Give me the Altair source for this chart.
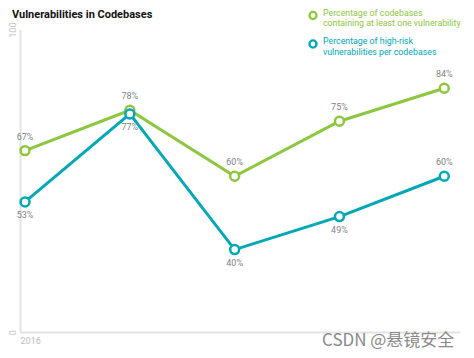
import altair as alt
import pandas as pd

years = [2016, 2017, 2018, 2019, 2020]
any_vuln = [67, 78, 60, 75, 84]
high_risk = [53, 77, 40, 49, 60]
series_names = ["Percentage of codebases containing at least one vulnerability",
                "Percentage of high-risk vulnerabilities per codebases"]
colors = ["#8dc63f", "#00a7b5"]

rows = []
for s, vals in zip(series_names, [any_vuln, high_risk]):
    for y, v in zip(years, vals):
        rows.append({"year": y, "value": v, "series": s, "label": f"{v}%"})
df = pd.DataFrame(rows)

FONT = "Roboto"
W, H = 440, 302.5

x = alt.X("year:Q",
          scale=alt.Scale(domain=[2015.952, 2020.15], nice=False, zero=False),
          axis=alt.Axis(values=[2016], format="d", title=None, ticks=False, grid=False,
                        domainColor="#e3e3e3", domainWidth=2, labelColor="#bdbdbd",
                        labelFontSize=9, labelFont=FONT, labelAlign="left", labelOffset=-5,
                        labelPadding=4, labelFlush=False))
y = alt.Y("value:Q",
          scale=alt.Scale(domain=[17.5, 100], nice=False, zero=False),
          axis=alt.Axis(values=[17.5, 100], labelExpr="datum.value >= 100 ? '100' : '0'",
                        title=None, ticks=False, grid=False, domainColor="#e3e3e3",
                        domainWidth=2, labelColor="#c4c4c4", labelFontSize=9,
                        labelFont=FONT, labelAngle=270, labelAlign="center",
                        labelBaseline="bottom", labelPadding=3, labelFlush=False))
color = alt.Color("series:N", scale=alt.Scale(domain=series_names, range=colors), legend=None)
stroke = alt.Stroke("series:N", scale=alt.Scale(domain=series_names, range=colors), legend=None)

base = alt.Chart(df)
lines = base.mark_line(strokeWidth=3).encode(x=x, y=y, color=color)
points = base.mark_point(shape="circle", filled=True, fill="white", size=80,
                         strokeWidth=2.5, opacity=1).encode(x=x, y=y, stroke=stroke)

lab_style = dict(fontSize=9, font=FONT, color="#7d818b")
lab_green = base.transform_filter(alt.datum.series == series_names[0]).mark_text(
    dy=-14, **lab_style).encode(x=x, y=y, text="label:N")
lab_blue_below = base.transform_filter(
    (alt.datum.series == series_names[1]) & (alt.datum.year < 2020)).mark_text(
    dy=13, **lab_style).encode(x=x, y=y, text="label:N")
lab_blue_above = base.transform_filter(
    (alt.datum.series == series_names[1]) & (alt.datum.year >= 2020)).mark_text(
    dy=-14, **lab_style).encode(x=x, y=y, text="label:N")

one = alt.Chart(pd.DataFrame({"a": [0]}))

def txt(s, px, py, col, size=8.8, weight="normal", font=FONT, align="left",
        baseline="middle"):
    return one.mark_text(align=align, baseline=baseline, fontSize=size, fontWeight=weight,
                         font=font, color=col).encode(
        x=alt.value(px), y=alt.value(py), text=alt.value(s))

title = txt("Vulnerabilities in Codebases", -8, -11.8, "#111111", size=11, weight="bold",
            baseline="alphabetic")
leg_marks = []
for i, (lines_txt, col) in enumerate([(["Percentage of codebases",
                                        "containing at least one vulnerability"], colors[0]),
                                       (["Percentage of high-risk",
                                         "vulnerabilities per codebases"], colors[1])]):
    cy = -14.1 + i * 28.5
    leg_marks.append(one.mark_point(shape="circle", filled=True, fill="white", size=50,
                                    strokeWidth=2.3, opacity=1, stroke=col).encode(
        x=alt.value(293), y=alt.value(cy)))
    leg_marks.append(txt(lines_txt[0], 303, cy - 2.6, col))
    leg_marks.append(txt(lines_txt[1], 303, cy + 7.6, col))

watermark = txt("CSDN @悬镜安全", 302, 311.5, "#8a8a8a", size=17, font="Noto Sans CJK SC")

chart = alt.layer(lines, points, lab_green, lab_blue_below, lab_blue_above,
                  title, *leg_marks, watermark).properties(
    width=W, height=H,
    autosize=alt.AutoSizeParams(type="none"),
    padding={"left": 12, "top": 21.6, "right": 6, "bottom": 18},
).configure_view(stroke=None)

chart.save("out.html", embed_options={"renderer": "svg", "actions": False})
